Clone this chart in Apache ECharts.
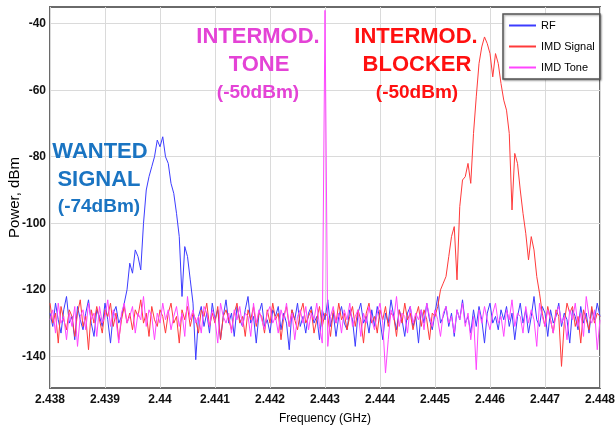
<!DOCTYPE html>
<html>
<head>
<meta charset="utf-8">
<script src="https://cdn.jsdelivr.net/npm/echarts@6/dist/echarts.min.js"></script>
<style>
  html, body { margin: 0; padding: 0; background: #fff; }
  #chart { width: 615px; height: 430px; }
</style>
</head>
<body>
<div id="chart"></div>
<script>
// sampling grid of the spectrum (GHz)
var FREQ_START = 2.438;
var FREQ_STEP = 0.00005;

var seriesNames = ['RF', 'IMD Signal', 'IMD Tone'];

// RF trace: noise floor + wanted signal around 2.440 GHz
var rfPower = [
  -127,-131,-124,-129,-133,-126,-122,-130,-128,-135,-125,-129,-132,-127,-123,-130,-134,-126,-128,-131,-124,-129,-136,-127,-125,-130,-128,-124,
  -120,-112,-115,-108,-110,-114,-100,-90,-86,-83,-80,-75,-77,-74,-80,-82,-88,-91,-97,-104,-122,-107,-110,-117,-124,
  -141,-128,-125,-131,-127,-133,-124,-129,-126,-135,
  -128,-123,-130,-127,-134,-125,-129,-131,-126,-122,
  -130,-128,-136,-127,-124,-131,-129,-133,-126,-128,
  -125,-132,-127,-130,-138,-126,-129,-124,-131,-128,
  -133,-127,-125,-130,-128,-135,-126,-129,-123,-131,
  -127,-134,-128,-125,-130,-132,-126,-129,-137,-127,
  -124,-130,-128,-133,-126,-131,-125,-129,-135,-127,
  -130,-123,-128,-132,-126,-129,-134,-127,-125,-131,
  -128,-136,-126,-130,-124,-129,-132,-127,-122,-130,
  -128,-125,-131,-127,-134,-126,-129,-123,-130,-128,
  -133,-126,-131,-125,-129,-136,-127,-124,-130,-128,
  -132,-126,-129,-125,-131,-127,-135,-128,-124,-130,
  -126,-133,-128,-122,-129,-131,-125,-127,-134,-126,
  -130,-128,-124,-131,-127,-129,-136,-126,-128,-132,
  -125,-130,-127,-133,-126,-129,-124,-128
];

// IMD signal trace: noise floor + blocker around 2.446 GHz
var imdSignalPower = [
  -124,-130,-127,-136,-125,-129,-132,-126,-128,-134,
  -127,-123,-131,-128,-138,-126,-130,-125,-129,-133,
  -126,-128,-124,-131,-127,-135,-129,-125,-130,-127,
  -132,-126,-128,-123,-130,-127,-134,-125,-129,-131,
  -126,-128,-133,-127,-124,-130,-128,-136,-126,-129,
  -125,-131,-127,-129,-133,-126,-128,-124,-131,-127,
  -130,-125,-135,-128,-126,-129,-132,-127,-124,-130,
  -128,-134,-126,-129,-125,-131,-127,-128,-133,-126,
  -130,-124,-129,-127,-135,-128,-125,-131,-126,-129,
  -132,-127,-124,-130,-128,-126,-133,-129,-125,-131,
  -127,-128,-134,-126,-130,-124,-129,-127,-132,-128,
  -125,-131,-126,-129,-136,-127,-124,-130,-128,-133,
  -126,-129,-125,-131,-127,-128,-134,-126,-130,-124,
  -129,-127,-132,-128,-125,-131,-126,-129,-135,-127,
  -128,-125,
  -120,-118,-116,-110,-104,-101,-117,-95,-87,-86,-82,-88,-73,-62,-52,-47,-44,-46,-49,-56,-49,-52,-58,-63,-66,-73,-96,-79,-82,-90,-97,-103,-111,-104,-108,-116,-121,
  -127,-131,-125,-129,-133,-126,-128,-143,-130,-124,-127,-125,-131,-128,-136,-126,-129,-132,-125,-130,-127,-128
];

// IMD tone trace: noise floor + single tone at 2.443 GHz
var imdTonePower = [
  -129,-126,-133,-124,-130,-128,-135,-127,-131,-125,
  -137,-128,-126,-132,-124,-129,-127,-134,-125,-130,
  -128,-123,-131,-126,-129,-136,-127,-124,-130,-128,
  -125,-133,-127,-129,-122,-131,-126,-128,-135,-127,
  -130,-124,-129,-126,-132,-128,-125,-131,-127,-134,
  -122,-129,-126,-130,-128,-133,-125,-127,-131,-126,
  -129,-136,-124,-128,-130,-127,-133,-126,-129,-125,
  -131,-127,-128,-134,-124,-130,-126,-129,-132,-127,
  -125,-130,-128,-133,-126,-129,-124,-131,-127,-135,
  -128,-126,-130,-125,-132,-127,-129,-124,-131,-136,
  -36,-137,-128,-125,-130,-127,-133,-126,-129,-124,
  -131,-128,-126,-134,-127,-130,-125,-129,-132,-127,
  -124,-130,-145,-135,-126,-129,-122,-131,-127,-128,
  -133,-125,-130,-127,-129,-126,-132,-124,-128,-131,
  -126,-129,-134,-127,-125,-130,-128,-133,-126,-129,
  -124,-131,-127,-135,-128,-144,-126,-130,-125,-129,
  -132,-127,-124,-130,-128,-134,-126,-129,-123,-131,
  -127,-128,-133,-125,-130,-126,-129,-137,-124,-128,
  -131,-126,-129,-133,-127,-125,-130,-128,-135,-126,
  -129,-124,-131,-127,-134,-122,-128,-130,-126,-138,
  -129
];

var yTicks = [-140, -120, -100, -80, -60, -40];

function pairs(values) {
  var out = [];
  for (var i = 0; i < values.length; i++) {
    out.push([+(FREQ_START + i * FREQ_STEP).toFixed(5), values[i]]);
  }
  return out;
}

var tickFont = '"Liberation Sans Narrow", "Liberation Sans", Arial, sans-serif';
var noteFont = '"Liberation Sans", Arial, sans-serif';

function note(text, x, y, size, color) {
  return {
    type: 'text', x: x, y: y, z: 100,
    style: {
      text: text, fill: color, align: 'center', verticalAlign: 'middle',
      font: 'bold ' + size + 'px ' + noteFont
    }
  };
}

var blueText = '#1a74c2';
var pinkText = '#e443d6';
var redText = '#ff1010';

var option = {
  animation: false,
  backgroundColor: '#fff',
  grid: {
    left: 50, right: 15, top: 7, bottom: 42,
    outerBoundsMode: 'none', containLabel: false,
    show: true, borderColor: '#6a6a6a', borderWidth: 2, backgroundColor: '#fff'
  },
  legend: {
    data: seriesNames,
    orient: 'vertical',
    left: 503, top: 14,
    padding: [6, 5, 6, 6],
    itemWidth: 27, itemHeight: 2, itemGap: 10,
    icon: 'rect',
    backgroundColor: '#fff',
    borderColor: '#555', borderWidth: 1.5,
    shadowBlur: 2, shadowColor: 'rgba(0,0,0,0.35)', shadowOffsetX: 1, shadowOffsetY: 1,
    textStyle: { fontFamily: tickFont, fontSize: 11, color: '#000', padding: [0, 0, 0, 0] }
  },
  xAxis: {
    type: 'value',
    min: 2.438, max: 2.448, interval: 0.001,
    name: 'Frequency (GHz)',
    nameLocation: 'middle', nameGap: 25, nameMoveOverlap: false,
    nameTextStyle: { fontFamily: tickFont, fontSize: 12, color: '#000' },
    axisLine: { show: false },
    axisTick: { show: false },
    axisLabel: {
      margin: 6, fontFamily: tickFont, fontSize: 12, fontWeight: 'bold', color: '#111',
      formatter: function (v) { return String(+v.toFixed(3)); }
    },
    splitLine: { show: true, lineStyle: { color: '#dadada', width: 1 } }
  },
  yAxis: {
    type: 'value',
    min: -149.5, max: -35,
    name: 'Power, dBm',
    nameLocation: 'middle', nameGap: 28, nameMoveOverlap: false,
    nameTextStyle: { fontFamily: noteFont, fontSize: 15, color: '#000' },
    axisLine: { show: false },
    axisTick: { show: false, customValues: yTicks },
    axisLabel: { customValues: yTicks, margin: 4, fontFamily: tickFont, fontSize: 12, fontWeight: 'bold', color: '#111' },
    splitLine: { show: true, lineStyle: { color: '#dadada', width: 1 } }
  },
  series: [
    { name: seriesNames[0], type: 'line', data: pairs(rfPower), showSymbol: false, symbol: 'none',
      color: '#3c3cff', lineStyle: { width: 1 } },
    { name: seriesNames[1], type: 'line', data: pairs(imdSignalPower), showSymbol: false, symbol: 'none',
      color: '#ff3a3a', lineStyle: { width: 1 } },
    { name: seriesNames[2], type: 'line', data: pairs(imdTonePower), showSymbol: false, symbol: 'none',
      color: '#ff45ff', lineStyle: { width: 1 } }
  ],
  graphic: [
    note('WANTED', 100, 152, 22, blueText),
    note('SIGNAL', 99, 180, 22, blueText),
    note('(-74dBm)', 99, 207, 19, blueText),
    note('INTERMOD.', 258, 37, 22, pinkText),
    note('TONE', 259, 65, 22, pinkText),
    note('(-50dBm)', 258, 93, 19, pinkText),
    note('INTERMOD.', 416, 37, 22, redText),
    note('BLOCKER', 417, 65, 22, redText),
    note('(-50dBm)', 417, 93, 19, redText)
  ]
};

var myChart = echarts.init(document.getElementById('chart'));
myChart.setOption(option);
</script>
</body>
</html>
